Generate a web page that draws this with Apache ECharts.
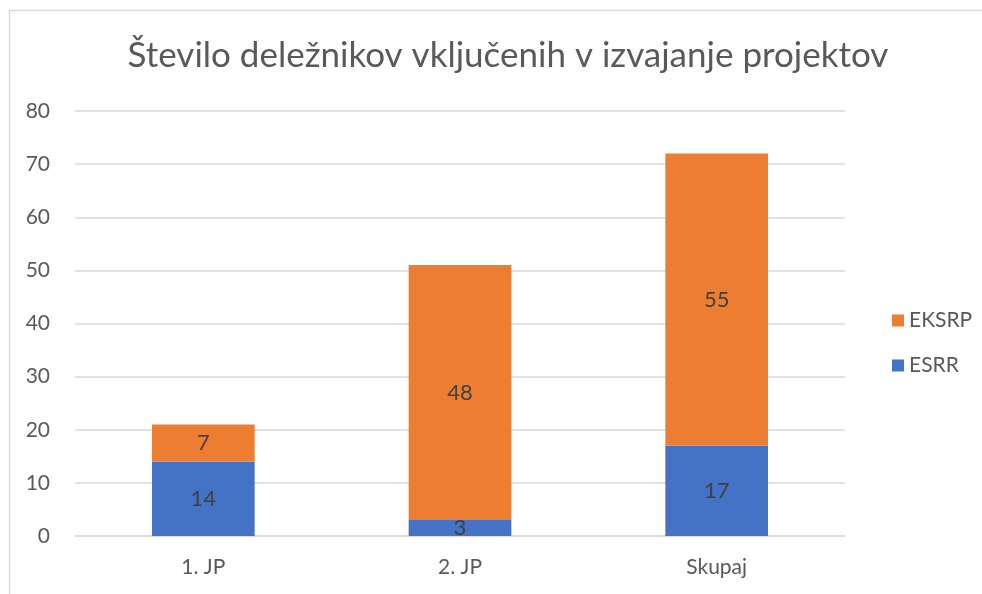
<!DOCTYPE html>
<html><head><meta charset="utf-8">
<script src="https://cdn.jsdelivr.net/npm/echarts@6/dist/echarts.min.js"></script>
<style>html,body{margin:0;padding:0;background:#fff}#c{width:982px;height:594px}</style>
</head><body><div id="c"></div>
<script>
const categories = ['1. JP', '2. JP', 'Skupaj'];
const esrr = [14, 3, 17];
const eksrp = [7, 48, 55];
const yTicks = [0, 10, 20, 30, 40, 50, 60, 70, 80];

const chart = echarts.init(document.getElementById('c'));
const font = 'Lato, "Open Sans", sans-serif';
const lbl = {show: true, position: 'inside', color: '#404040', fontSize: 22, fontFamily: font};
chart.setOption({
  animation: false,
  graphic: [{type: 'rect', shape: {x: 9.5, y: 10.5, width: 980, height: 600}, style: {fill: 'none', stroke: '#d9d9d9', lineWidth: 1.5}, silent: true}],
  title: {text: 'Število deležnikov vključenih v izvajanje projektov', left: 503, top: 33, textAlign: 'center',
    textStyle: {fontFamily: font, fontSize: 35, fontWeight: 'normal', color: '#595959'}},
  legend: {orient: 'vertical', left: 887, top: 305, itemWidth: 12, itemHeight: 12, itemGap: 24,
    data: ['EKSRP', 'ESRR'], textStyle: {fontFamily: font, fontSize: 21, color: '#595959'}, icon: 'rect'},
  grid: {left: 75, right: 137, top: 111, bottom: 58, containLabel: false},
  xAxis: {type: 'category', data: categories, axisTick: {show: false},
    axisLine: {lineStyle: {color: '#d9d9d9', width: 1.5}},
    axisLabel: {fontFamily: font, fontSize: 21, color: '#595959', margin: 21}},
  yAxis: {type: 'value', min: yTicks[0], max: yTicks[yTicks.length - 1], interval: 10,
    axisLine: {show: false}, axisTick: {show: false},
    splitLine: {lineStyle: {color: '#d9d9d9', width: 1.5}},
    axisLabel: {fontFamily: font, fontSize: 21, color: '#595959', margin: 25}},
  series: [
    {name: 'ESRR', type: 'bar', stack: 's', data: esrr, barWidth: '40%', itemStyle: {color: '#4472C4'}, label: lbl},
    {name: 'EKSRP', type: 'bar', stack: 's', data: eksrp, barWidth: '40%', itemStyle: {color: '#ED7D31'}, label: lbl}
  ]
});
</script></body></html>
